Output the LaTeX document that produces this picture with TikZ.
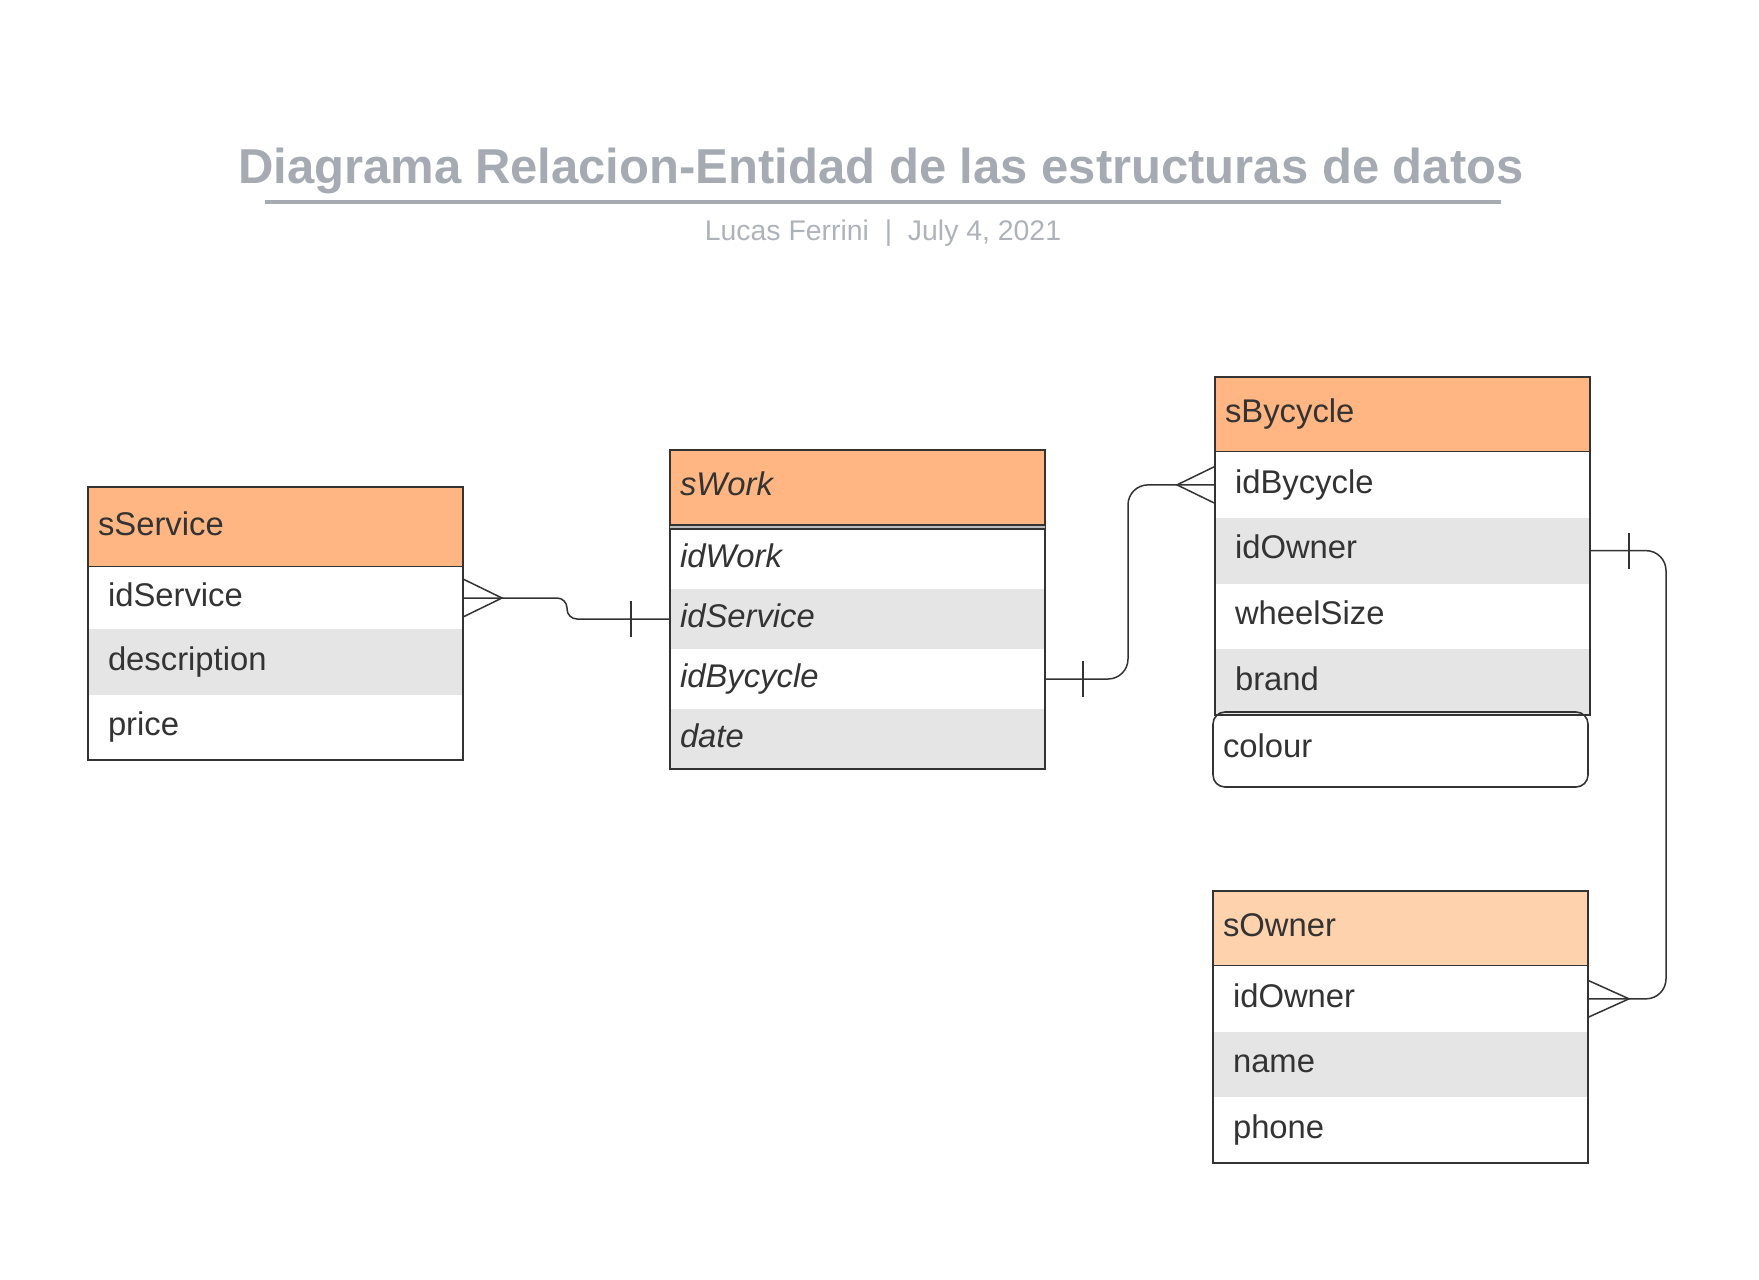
\documentclass[tikz,border=0pt]{standalone}
\usepackage{fontspec}
\setmainfont{Liberation Sans}
\usetikzlibrary{positioning}
\definecolor{ink}{HTML}{333333}
\definecolor{peach}{HTML}{FFB682}
\definecolor{lightpeach}{HTML}{FFD2AE}
\definecolor{rowgray}{HTML}{E5E5E5}
\definecolor{titlegray}{HTML}{A5AAB3}

\begin{document}
\begin{tikzpicture}[%
  x=0.5pt, y=-0.5pt,
  every node/.style={outer sep=0pt, text=ink, font=\fontsize{16.4}{19}\selectfont,
    text height=12.3pt, text depth=4.1pt},
  hdr/.style={draw=ink, line width=0.9pt, fill=peach, anchor=north west,
    minimum height=37.5pt, text width=177.5pt, inner xsep=5pt, align=left},
  fld/.style={fill=white, minimum height=#1, text width=167.5pt, inner xsep=10pt, align=left},
  fld/.default=32.5pt,
  grayrow/.style={fill=rowgray},
  wrkrow/.style={font=\fontsize{16.4}{19}\selectfont\itshape, text width=177.5pt, inner xsep=5pt},
  boxline/.style={draw=ink, line width=0.9pt},
  link/.style={draw=ink, line width=0.75pt}]
\useasboundingbox (0,0) rectangle (1759,1279);

% title
\node[anchor=base, text=titlegray, font=\bfseries\fontsize{24.5}{29}\selectfont] (title) at (881,183)
  {Diagrama Relacion-Entidad de las estructuras de datos};
\draw[titlegray, line width=2.2pt] (265,202) -- (1501,202);
\node[anchor=base, text=titlegray!90, font=\fontsize{14.2}{17}\selectfont] (sub) at (883,240)
  {Lucas Ferrini~~|~~July 4, 2021};

% sService
\node[hdr, minimum height=40pt] (srv) at (88,487) {sService};
\node[fld=31pt, below=0pt of srv] (srv-id) {idService};
\node[fld=33pt, grayrow, below=0pt of srv-id] (srv-desc) {description};
\node[fld=32.5pt, below=0pt of srv-desc] (srv-price) {price};
\draw[boxline] (srv.north west) rectangle (srv-price.south east);

% sWork
\node[hdr, wrkrow] (wrk) at (670,450) {sWork};
\node[fld=30pt, wrkrow, below=2pt of wrk] (wrk-id) {idWork};
\node[fld=30pt, wrkrow, grayrow, below=0pt of wrk-id] (wrk-srv) {idService};
\node[fld=30pt, wrkrow, below=0pt of wrk-srv] (wrk-byc) {idBycycle};
\node[fld=30pt, wrkrow, grayrow, below=0pt of wrk-byc] (wrk-date) {date};
\draw[boxline] (wrk.north west) rectangle (wrk-date.south east);
\draw[ink, line width=0.8pt, double=rowgray!60!gray, double distance=0.9pt]
  ([yshift=-1pt]wrk.south west) -- ([yshift=-1pt]wrk.south east);

% sBycycle
\node[hdr] (byc) at (1215,377) {sBycycle};
\node[fld=32.875pt, below=0pt of byc] (byc-id) {idBycycle};
\node[fld=32.875pt, grayrow, below=0pt of byc-id] (byc-own) {idOwner};
\node[fld=32.875pt, below=0pt of byc-own] (byc-wheel) {wheelSize};
\node[fld=32.875pt, grayrow, below=0pt of byc-wheel] (byc-brand) {brand};
\draw[boxline] (byc.north west) rectangle (byc-brand.south east);
\node[draw=ink, line width=0.8pt, rounded corners=6pt, anchor=north west, minimum height=37.5pt,
  text width=177.5pt, inner xsep=5pt, align=left] (byc-col) at (1213,712) {colour};

% sOwner
\node[hdr, fill=lightpeach] (own) at (1213,891) {sOwner};
\node[fld=32.83pt, below=0pt of own] (own-id) {idOwner};
\node[fld=32.83pt, grayrow, below=0pt of own-id] (own-name) {name};
\node[fld=32.83pt, below=0pt of own-name] (own-phone) {phone};
\draw[boxline] (own.north west) rectangle (own-phone.south east);

% relations
\draw[link] (srv-id.east) ++(0,-19) -- ++(39,19) -- ++(-39,19);
\draw[link, rounded corners=5pt] (srv-id.east) -- ++(104,0) |- (wrk-srv.west);
\draw[link] (wrk-srv.west) ++(-39,-18) -- ++(0,36);

\draw[link] (wrk-byc.east) ++(38,-18) -- ++(0,36);
\draw[link, rounded corners=10pt] (wrk-byc.east) -- ++(83,0) |- (byc-id.west);
\draw[link] (byc-id.west) ++(0,-18.5) -- ++(-38,18.5) -- ++(38,18.5);

\draw[link] (byc-own.east) ++(39,-18) -- ++(0,36);
\draw[link, rounded corners=10pt] (byc-own.east) -- ++(76,0) |- (own-id.east);
\draw[link] (own-id.east) ++(0,-18.5) -- ++(41,18.5) -- ++(-41,18.5);
\end{tikzpicture}
\end{document}
